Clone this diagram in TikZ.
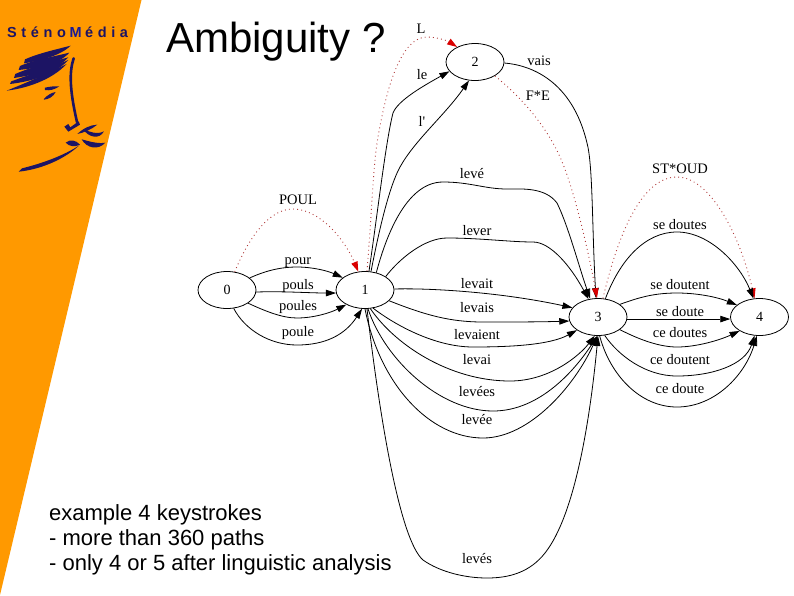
\documentclass[tikz,border=0pt]{standalone}
\usepackage{fontspec}
\setmainfont{Liberation Sans}
\newfontfamily\serifl{Liberation Serif}
\usetikzlibrary{arrows.meta,shapes.geometric}
\definecolor{orangebg}{HTML}{FF9900}
\definecolor{navy}{HTML}{1C1464}
\definecolor{midblue}{HTML}{1A1A96}
\definecolor{dotred}{HTML}{B03A3A}
\tikzset{
  state/.style={draw,ellipse,minimum width=58pt,minimum height=37pt,inner sep=0pt,line width=.8pt,font=\serifl\fontsize{14}{14}\selectfont},
  edge/.style={line width=.8pt,-{Triangle[length=10pt,width=6.5pt]}},
  redge/.style={line width=.9pt,dotred,dash pattern=on .9pt off 3.2pt,-{Triangle[length=10pt,width=6.5pt,color=red!85!black]}},
  lab/.style={font=\serifl\fontsize{14.5}{14.5}\selectfont,text height=9pt,text depth=3pt,inner sep=0pt},
  face/.style={fill=navy,draw=none},
  facestroke/.style={draw=navy,line cap=round,line join=round},
}
\begin{document}
\begin{tikzpicture}[x=1pt,y=-1pt]
\useasboundingbox (0,0) rectangle (794,595);
\fill[orangebg] (0,0) -- (141.5,0) -- (0,595) -- cycle;
% logo
\node[anchor=base west,inner sep=0pt,text=navy] (logo) at (7,37) {\fontsize{14.5}{14.5}\selectfont\bfseries\addfontfeature{LetterSpace=32}Sténo\kern3.5pt\textcolor{midblue}{M}\kern3.5pt édia};
\begin{scope}[x=.3333pt,y=-.3333pt]
\fill[face] (212,137) .. controls (170,148) and (115,160) .. (75,178) -- (72,190) .. controls (120,182) and (180,168) .. (212,137) -- cycle;
\fill[face] (208,158) .. controls (160,170) and (100,180) .. (60,198) -- (56,210) .. controls (110,204) and (175,195) .. (208,158) -- cycle;
\fill[face] (205,172) .. controls (155,186) and (90,202) .. (46,222) -- (42,234) .. controls (100,225) and (170,212) .. (205,172) -- cycle;
\fill[face] (205,180) .. controls (150,205) and (85,225) .. (34,244) -- (30,252) .. controls (90,245) and (165,225) .. (205,180) -- cycle;
\fill[face] (200,192) .. controls (145,220) and (75,250) .. (20,272) .. controls (80,265) and (155,240) .. (200,192) -- cycle;
\draw[facestroke,line width=2.6pt] (221,175) .. controls (208,215) and (208,265) .. (231,366);
\fill[face] (135,263) .. controls (148,260) and (165,258) .. (178,259) .. controls (165,268) and (150,273) .. (135,270) -- cycle;
\fill[face] (132,297) .. controls (142,285) and (155,278) .. (167,276) .. controls (160,290) and (146,298) .. (132,299) -- cycle;
\fill[face] (193,380) -- (205,372) -- (211,382) -- (236,364) -- (240,374) -- (205,395) -- cycle;
\fill[face] (232,402) .. controls (250,385) and (270,375) .. (292,374) .. controls (275,388) and (252,398) .. (232,402) -- cycle;
\fill[face] (250,388) .. controls (272,396) and (290,405) .. (312,394) .. controls (298,420) and (265,412) .. (250,388) -- cycle;
\fill[face] (245,418) .. controls (270,425) and (295,432) .. (316,428) .. controls (295,452) and (260,445) .. (245,418) -- cycle;
\fill[face] (197,428) .. controls (210,417) and (228,420) .. (240,434) .. controls (225,442) and (208,440) .. (197,428) -- cycle;
\fill[face] (56,515) .. controls (110,510) and (185,485) .. (238,436) .. controls (190,468) and (120,492) .. (66,505) -- cycle;
\end{scope}
% title and comment
\node[anchor=base west,inner sep=0pt] (title) at (166,52) {\fontsize{42}{42}\selectfont Ambiguity ?};
\node[anchor=base west,inner sep=0pt] (t1) at (49,520) {\fontsize{22}{22}\selectfont example 4 keystrokes};
\node[anchor=base west,inner sep=0pt] (t2) at (49,545) {\fontsize{22}{22}\selectfont - more than 360 paths};
\node[anchor=base west,inner sep=0pt] (t3) at (49,570) {\fontsize{22}{22}\selectfont - only 4 or 5 after linguistic analysis};
% states
\node[state] (n0) at (227,290) {0};
\node[state] (n1) at (365,290) {1};
\node[state] (n2) at (475,62) {2};
\node[state] (n3) at (598,317) {3};
\node[state] (n4) at (759.5,317) {4};
% 0 -> 1
\draw[redge] (n0.67) .. controls (250,235) and (270,209) .. (293,209) .. controls (320,209) and (345,240) .. (n1.110);
\draw[edge] (n0.28) .. controls (265,271) and (280,267) .. (297,267) .. controls (313,267) and (328,271) .. (n1.151);
\draw[edge] (n0.-4) .. controls (280,291) and (310,293) .. (n1.186);
\draw[edge] (n0.-32) .. controls (265,311) and (282,318) .. (297,318) .. controls (313,318) and (330,313) .. (n1.218);
\draw[edge] (n0.-70) .. controls (245,330) and (270,345) .. (297,345) .. controls (325,345) and (345,335) .. (n1.261);
% 1 -> 2
\draw[redge] (n1.84) .. controls (372,210) and (373,170) .. (377,143) .. controls (384,100) and (398,37) .. (427,37) .. controls (437,37) and (448,41) .. (n2.140);
\draw[edge] (n1.78) .. controls (378,210) and (386,140) .. (393,113) .. controls (398,100) and (425,85) .. (n2.200);
\draw[edge] (n1.72) .. controls (380,225) and (390,185) .. (400,167) .. controls (415,140) and (445,115) .. (n2.252);
% 1 -> 3
\draw[edge] (n1.57) .. controls (385,240) and (405,182) .. (443,182) .. controls (470,182) and (485,189) .. (507,189) .. controls (522,189) and (545,187) .. (557,203) .. controls (568,225) and (580,270) .. (n3.113);
\draw[edge] (n1.33) .. controls (400,258) and (425,238) .. (447,238) .. controls (480,238) and (510,242) .. (533,242) .. controls (550,242) and (570,265) .. (n3.118);
\draw[edge] (n1.2) .. controls (430,288) and (500,292) .. (n3.160);
\draw[edge] (n1.-24) .. controls (425,315) and (450,322) .. (483,322) .. controls (510,322) and (540,322) .. (n3.188);
\draw[edge] (n1.-66) .. controls (395,325) and (435,347) .. (473,347) .. controls (510,347) and (550,345) .. (n3.212);
\draw[edge] (n1.-74) .. controls (395,345) and (450,381) .. (510,381) .. controls (550,381) and (580,355) .. (n3.260);
\draw[edge] (n1.-81) .. controls (385,360) and (440,411) .. (493,411) .. controls (540,411) and (575,370) .. (n3.268);
\draw[edge] (n1.-90) .. controls (380,385) and (430,438) .. (483,438) .. controls (530,438) and (575,385) .. (n3.268);
\draw[edge] (n1.-84) .. controls (380,420) and (400,540) .. (423,560) .. controls (440,572) and (465,578) .. (487,578) .. controls (510,578) and (530,572) .. (545,553) .. controls (575,515) and (590,420) .. (n3.270);
% 2 -> 3
\draw[edge] (n2.-2) .. controls (530,65) and (572,80) .. (587,143) .. controls (593,165) and (592,230) .. (n3.96);
\draw[redge] (n2.-35) .. controls (525,100) and (548,130) .. (560,157) .. controls (575,190) and (590,260) .. (n3.93);
% 3 -> 4
\draw[redge] (n3.75) .. controls (620,225) and (645,177) .. (677,177) .. controls (710,177) and (740,235) .. (n4.105);
\draw[edge] (n3.68) .. controls (620,260) and (645,232) .. (677,232) .. controls (710,232) and (740,265) .. (n4.108);
\draw[edge] (n3.30) .. controls (640,297) and (655,293) .. (677,293) .. controls (697,293) and (717,297) .. (n4.152);
\draw[edge] (n3.-4) -- (n4.184);
\draw[edge] (n3.-30) .. controls (640,340) and (660,347) .. (677,347) .. controls (697,347) and (720,340) .. (n4.215);
\draw[edge] (n3.-70) .. controls (618,355) and (645,376) .. (677,376) .. controls (712,376) and (745,365) .. (n4.255);
\draw[edge] (n3.-85) .. controls (610,375) and (640,407) .. (677,407) .. controls (715,407) and (745,375) .. (n4.262);
% labels
\node[lab] (l1) at (298,201) {POUL};
\node[lab] (l2) at (298,261) {pour};
\node[lab] (l3) at (298,286) {pouls};
\node[lab] (l4) at (298,307) {poules};
\node[lab] (l5) at (298,333) {poule};
\node[lab] (l6) at (421,30) {L};
\node[lab] (l7) at (422,76) {le};
\node[lab] (l8) at (422,123) {l'};
\node[lab] (l9) at (539,62) {vais};
\node[lab] (l10) at (538,97) {F*E};
\node[lab] (l11) at (472,175) {levé};
\node[lab] (l12) at (477,232) {lever};
\node[lab] (l13) at (477,285) {levait};
\node[lab] (l14) at (477,309) {levais};
\node[lab] (l15) at (477,336) {levaient};
\node[lab] (l16) at (477,361) {levai};
\node[lab] (l17) at (477,393) {levées};
\node[lab] (l18) at (477,421) {levée};
\node[lab] (l19) at (477,560) {levés};
\node[lab] (l20) at (680,170) {ST*OUD};
\node[lab] (l21) at (680,226) {se doutes};
\node[lab] (l22) at (680,286) {se doutent};
\node[lab] (l23) at (680,313) {se doute};
\node[lab] (l24) at (680,334) {ce doutes};
\node[lab] (l25) at (680,361) {ce doutent};
\node[lab] (l26) at (680,390) {ce doute};
\end{tikzpicture}
\end{document}
